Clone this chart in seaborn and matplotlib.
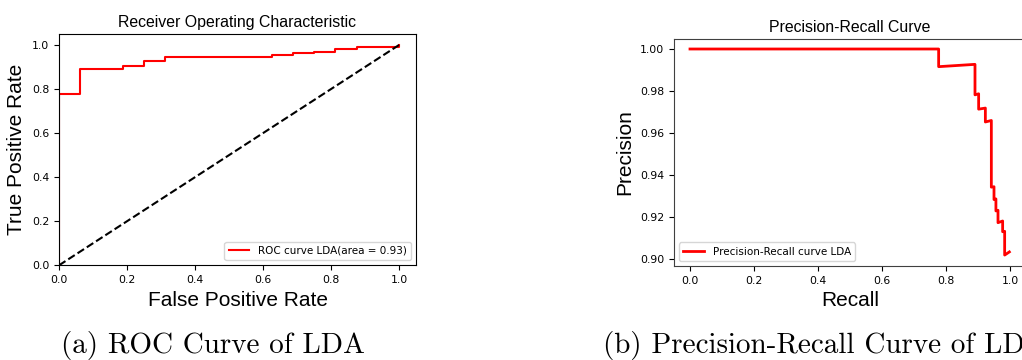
import matplotlib
matplotlib.use("Agg")
import matplotlib.pyplot as plt
import seaborn as sns
import pandas as pd

# ROC curve (LDA) vertices
fpr = [0.0, 0.0, 0.0625, 0.0625, 0.1875, 0.1875, 0.25, 0.25, 0.3125, 0.3125,
       0.625, 0.625, 0.6875, 0.6875, 0.75, 0.75, 0.8125, 0.8125, 0.875, 0.875, 1.0, 1.0]
tpr = [0.0, 0.779, 0.779, 0.892, 0.892, 0.907, 0.907, 0.929, 0.929, 0.947,
       0.947, 0.954, 0.954, 0.962, 0.962, 0.969, 0.969, 0.980, 0.980, 0.989, 0.989, 1.0]
roc_label = "ROC curve LDA(area = 0.93)"

# Chance diagonal
diag_x = [0.0, 1.0]
diag_y = [0.0, 1.0]

# Precision-Recall curve (LDA)
recall = [0.0, 0.777, 0.777, 0.8906, 0.8906, 0.902, 0.902, 0.923, 0.923, 0.9417,
          0.9417, 0.950, 0.950, 0.956, 0.956, 0.9625, 0.9625, 0.977, 0.977, 0.9833,
          0.9833, 0.998]
precision = [1.0, 1.0, 0.9916, 0.9927, 0.9782, 0.9787, 0.9714, 0.9719, 0.9653, 0.9660,
             0.9343, 0.9345, 0.9284, 0.9287, 0.9230, 0.9233, 0.9174, 0.9182, 0.9131, 0.9133,
             0.9020, 0.9035]
pr_label = "Precision-Recall curve LDA"

captions = ["(a) ROC Curve of LDA", "(b) Precision-Recall Curve of LDA"]

roc_df = pd.DataFrame({"fpr": fpr, "tpr": tpr})
pr_df = pd.DataFrame({"recall": recall, "precision": precision})

W, H = 1022, 360
fig = plt.figure(figsize=(W / 100, H / 100), dpi=100)

title_font = dict(family="Liberation Sans", size=11.4)
label_font = dict(family="Liberation Sans", size=15)

# ---- Left: ROC ----
ax1 = fig.add_axes([59 / W, 1 - 265.3 / H, 357 / W, (265.3 - 34) / H])
sns.lineplot(data=roc_df, x="fpr", y="tpr", sort=False, estimator=None,
             color="red", linewidth=1.5, label=roc_label, ax=ax1)
sns.lineplot(x=diag_x, y=diag_y, sort=False, estimator=None, color="black",
             linestyle="--", linewidth=1.5, ax=ax1)
ax1.set_xlim(0, 1.05)
ax1.set_ylim(0, 1.05)
ax1.set_title("Receiver Operating Characteristic", pad=5, **title_font)
ax1.set_xlabel("False Positive Rate", **label_font)
ax1.set_ylabel("True Positive Rate", **label_font)
ax1.tick_params(labelsize=7.8)
ax1.legend(loc="lower right", fontsize=7.5)

# ---- Right: Precision-Recall ----
ax2 = fig.add_axes([674 / W, 1 - 266 / H, 352 / W, (266 - 38.7) / H])
sns.lineplot(data=pr_df, x="recall", y="precision", sort=False, estimator=None,
             color="red", linewidth=2, label=pr_label, ax=ax2)
ax2.set_xlim(-0.05, 1.05)
ax2.set_ylim(0.8968, 1.0049)
ax2.set_yticks([0.90, 0.92, 0.94, 0.96, 0.98, 1.00])
ax2.set_title("Precision-Recall Curve", pad=5, **title_font)
ax2.set_xlabel("Recall", **label_font)
ax2.set_ylabel("Precision", **label_font)
ax2.tick_params(labelsize=7.8)
for sp in ax2.spines.values():
    sp.set_color("0.25")
ax2.legend(loc="lower left", fontsize=7.5)

# ---- Captions ----
fig.text(212.5 / W, 1 - 353 / H, captions[0], family="cmr10", size=21,
         ha="center", va="baseline")
fig.text(603 / W, 1 - 353 / H, captions[1], family="cmr10", size=21,
         ha="left", va="baseline")

fig.savefig("out.png", dpi=100)
